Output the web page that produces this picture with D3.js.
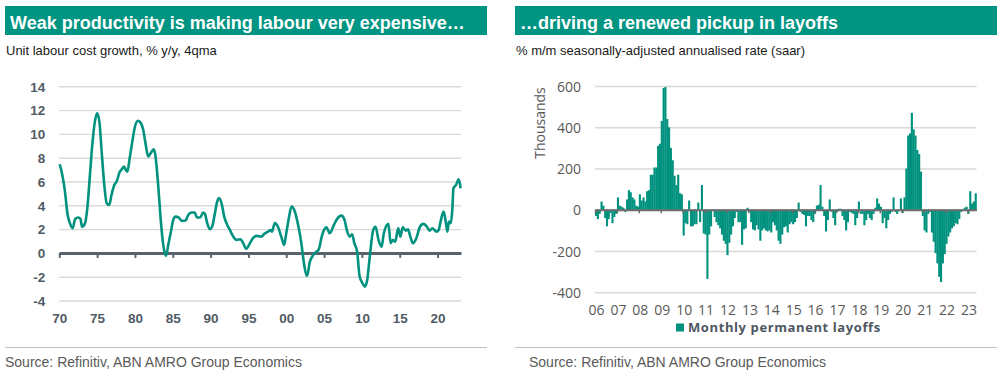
<!DOCTYPE html>
<html>
<head>
<meta charset="utf-8">
<script src="https://cdn.jsdelivr.net/npm/d3@7"></script>
<style>
body { margin: 0; background: #fff; }
svg { display: block; }
</style>
</head>
<body>
<svg></svg>
<script>
// ---- left chart: unit labour cost growth, % y/y, 4qma
const ulcYears = [
	1970.05, 1970.4, 1970.75, 1971.1, 1971.4, 1971.77, 1972.1, 1972.5, 1972.8, 1973.0,
	1973.4, 1973.7, 1974.05, 1974.36, 1974.7, 1975.0, 1975.3, 1975.6, 1975.95, 1976.26,
	1976.6, 1976.9, 1977.27, 1977.58, 1978.0, 1978.2, 1978.55, 1978.8, 1979.0, 1979.3,
	1979.65, 1980.0, 1980.4, 1980.8, 1981.1, 1981.4, 1981.75, 1982.07, 1982.5, 1982.7,
	1983.07, 1983.43, 1983.74, 1984.1, 1984.4, 1984.76, 1985.06, 1985.38, 1985.8, 1986.17,
	1986.7, 1987.0, 1987.5, 1987.9, 1988.2, 1988.67, 1989.0, 1989.25, 1989.55, 1989.9,
	1990.2, 1990.57, 1990.87, 1991.1, 1991.45, 1991.8, 1992.2, 1992.55, 1993.0, 1993.43,
	1993.96, 1994.3, 1994.7, 1995.2, 1995.6, 1996.1, 1996.7, 1997.1, 1997.6, 1997.95,
	1998.1, 1998.5, 1998.9, 1999.4, 1999.72, 2000.0, 2000.3, 2000.7, 2001.14, 2001.55,
	2002.0, 2002.3, 2002.76, 2003.1, 2003.55, 2003.9, 2004.3, 2004.7, 2005.0, 2005.3,
	2005.76, 2006.3, 2006.7, 2007.3, 2007.7, 2008.0, 2008.4, 2008.7, 2009.0, 2009.37,
	2009.7, 2010.08, 2010.38, 2010.7, 2011.04, 2011.5, 2011.8, 2012.2, 2012.6, 2012.9,
	2013.5, 2013.8, 2014.1, 2014.4, 2014.8, 2015.1, 2015.4, 2015.8, 2016.1, 2016.4,
	2016.75, 2017.2, 2017.65, 2018.1, 2018.6, 2018.95, 2019.3, 2019.85, 2020.15, 2020.4,
	2020.8, 2021.05, 2021.3, 2021.5, 2021.75, 2021.95, 2022.1, 2022.45, 2022.8, 2023.05
];
const ulcValues = [
	7.45, 6.55, 5.15, 3.2, 2.5, 2.07, 2.85, 2.97, 2.86, 2.2,
	2.5, 3.75, 6.55, 9.07, 11.03, 11.74, 11.03, 8.5, 5.7, 4.17,
	4.03, 4.87, 5.7, 6.0, 6.83, 6.97, 7.25, 6.97, 6.83, 7.95,
	9.35, 10.6, 11.1, 10.9, 10.33, 9.2, 8.1, 8.38, 8.7, 8.2,
	5.7, 2.63, 0.67, -0.25, 0.67, 1.8, 2.77, 3.05, 2.97, 2.69,
	2.72, 3.13, 3.39, 3.39, 2.97, 3.0, 3.39, 3.28, 2.5, 1.99,
	2.2, 3.33, 4.3, 4.6, 4.17, 3.05, 2.35, 1.93, 1.37, 1.09,
	1.15, 0.82, 0.35, 0.82, 1.24, 1.43, 1.37, 1.6, 1.79, 1.93,
	1.79, 2.5, 2.2, 1.24, 0.67, 1.65, 2.77, 3.89, 3.47, 2.4,
	0.8, -0.7, -1.93, -0.8, -0.2, 0.05, 0.3, 1.4, 1.93, 2.16,
	1.65, 2.35, 2.83, 3.13, 2.77, 1.93, 1.37, 1.57, 0.82, 0.11,
	-1.99, -2.55, -2.83, -2.27, -0.31, 1.93, 2.2, 1.09, 0.53, 1.65,
	2.44, 0.82, 1.09, 0.95, 2.07, 1.37, 2.16, 1.87, 1.99, 1.37,
	0.82, 1.24, 2.16, 2.44, 2.2, 1.87, 2.07, 1.79, 1.93, 2.63,
	3.47, 2.77, 1.79, 2.63, 2.5, 3.61, 5.43, 5.71, 6.19, 5.43
];
const ulcTicks = [-4, -2, 0, 2, 4, 6, 8, 10, 12, 14];
const ulcYearTicks = [1970, 1975, 1980, 1985, 1990, 1995, 2000, 2005, 2010, 2015, 2020];
const ulcYearLabels = ["70", "75", "80", "85", "90", "95", "00", "05", "10", "15", "20"];

// ---- right chart: monthly permanent layoffs, thousands (Jan 2006 - May 2023)
const layoffs = [
	-30, -45, -20, 40, 20, -40, -80, -45, -15, -65, -35, -20, // 2006
	60, 20, 15, 10, -10, 50, 95, 85, 60, 50, 20, 15, // 2007
	75, 45, 60, 40, 90, 95, 170, 170, 205, 205, 310, 320, // 2008
	430, 590, 595, 440, 400, 300, 240, 165, 120, 170, 80, 75, // 2009
	-125, -65, -70, 45, -80, -80, -70, -70, 35, -60, 120, -115, // 2010
	-120, -335, -120, -80, -5, -35, -60, -75, -90, -120, -150, -165, // 2011
	-220, -160, -120, -80, -40, -10, -60, -60, -170, -95, -90, 10, // 2012
	-10, -60, -95, -100, -75, -95, -150, -100, -90, -100, -105, -100, // 2013
	-110, -60, -75, -100, -150, -165, -120, -85, -80, -110, -70, -60, // 2014
	-70, -60, -40, 35, -10, -20, -25, -80, -30, -30, -50, -60, // 2015
	-20, 20, 25, 120, 15, -30, -105, -50, 50, -10, -40, -75, // 2016
	-10, 5, 5, -30, -50, -100, -60, -10, -15, -20, -75, -40, // 2017
	40, -20, -20, -75, -50, -20, -40, -50, -20, 10, 55, 30, // 2018
	15, -65, -40, -90, -50, -20, -10, 60, -10, -20, 0, 55, // 2019
	-15, 60, 200, 360, 370, 470, 390, 360, 290, 270, 185, -30, // 2020
	-100, -110, -20, -10, -110, -155, -210, -260, -325, -350, -260, -215, // 2021
	-165, -130, -110, -90, -80, -65, -70, -45, -10, -5, 10, 15, // 2022
	-20, 90, 30, 40, 80 // 2023
];
const layoffTicks = [-400, -200, 0, 200, 400, 600];
const layoffYearLabels = ["06", "07", "08", "09", "10", "11", "12", "13", "14", "15", "16", "17", "18", "19", "20", "21", "22", "23"];

const teal = "#00927f";
const titleTeal = "#009482";

const svg = d3.select("svg").attr("width", 1005).attr("height", 381);

// headers, subtitles, footers
function panelFrame(x0, title, subtitle, srcX) {
	svg.append("rect").attr("x", x0).attr("y", 6).attr("width", 482).attr("height", 29).attr("fill", titleTeal);
	svg.append("text").attr("x", x0 + 5).attr("y", 28.5).text(title)
		.attr("fill", "#fff").attr("font-family", "Liberation Sans, Arial, sans-serif")
		.attr("font-weight", "bold").attr("font-size", 18);
	svg.append("text").attr("x", x0 + 1).attr("y", 55).text(subtitle)
		.attr("fill", "#1a1a1a").attr("font-family", "Liberation Sans, Arial, sans-serif").attr("font-size", 13);
	svg.append("line").attr("x1", x0).attr("x2", x0 + 482).attr("y1", 347.5).attr("y2", 347.5)
		.attr("stroke", "#bfbfbf").attr("stroke-width", 1);
	svg.append("text").attr("x", srcX).attr("y", 367).text("Source: Refinitiv, ABN AMRO Group Economics")
		.attr("fill", "#595959").attr("font-family", "Liberation Sans, Arial, sans-serif").attr("font-size", 14);
}
panelFrame(5, "Weak productivity is making labour very expensive…", "Unit labour cost growth, % y/y, 4qma", 5);
panelFrame(515, "…driving a renewed pickup in layoffs", "% m/m seasonally-adjusted annualised rate (saar)", 529);

// ---- left chart
const lx = d3.scaleLinear().domain([1970, 2023.1]).range([59.3, 461]);
const ly = d3.scaleLinear().domain([-4, 14]).range([300.5, 86.3]);

const lGrid = svg.append("g").attr("transform", "translate(59.3,0)")
	.call(d3.axisLeft(ly).tickValues(ulcTicks).tickSize(-(461 - 59.3)).tickPadding(14)
		.tickFormat((d) => String(d)));
lGrid.select(".domain").remove();
lGrid.selectAll("line").attr("stroke", "#d9d9d9").attr("stroke-width", 1.4);
lGrid.selectAll("text").attr("fill", "#515b65").attr("font-family", "Liberation Sans, Arial, sans-serif")
	.attr("font-weight", "bold").attr("font-size", 13.5).attr("dy", "0.36em");

const lZero = svg.append("g").attr("transform", `translate(0,${ly(0)})`)
	.call(d3.axisBottom(lx).tickValues(ulcYearTicks).tickSize(5).tickSizeOuter(0).tickFormat(""));
lZero.select(".domain").attr("stroke", "#58626c").attr("stroke-width", 3);
lZero.selectAll(".tick line").attr("stroke", "#58626c").attr("stroke-width", 2);

const lLabels = svg.append("g").attr("transform", "translate(0,313)")
	.call(d3.axisBottom(lx).tickValues(ulcYearTicks).tickSize(0).tickPadding(0)
		.tickFormat((d, i) => ulcYearLabels[i]));
lLabels.select(".domain").remove();
lLabels.selectAll("text").attr("fill", "#515b65").attr("font-family", "Liberation Sans, Arial, sans-serif")
	.attr("font-weight", "bold").attr("font-size", 13.5);

const ulcLine = d3.line()
	.x((d, i) => lx(ulcYears[i]))
	.y((d) => ly(d))
	.curve(d3.curveMonotoneX);
svg.append("path").attr("d", ulcLine(ulcValues))
	.attr("fill", "none").attr("stroke", teal).attr("stroke-width", 2.6).attr("stroke-linejoin", "round");

// ---- right chart
const months = d3.timeMonth.range(new Date(2006, 0, 1), new Date(2006, 0 + layoffs.length, 1));
const yearStarts = d3.timeYear.range(new Date(2006, 0, 1), new Date(2024, 0, 1));
const rt = d3.scaleTime().domain([months[0], d3.timeMonth.offset(months[months.length - 1], 1)]).range([595, 976.5]);
const rx = d3.scaleBand().domain(months.map((m) => +m)).range([595, 976.5]).padding(0);
const ry = d3.scaleLinear().domain([-400, 600]).range([292.3, 86]);

const rGrid = svg.append("g").attr("transform", "translate(595,0)")
	.call(d3.axisLeft(ry).tickValues(layoffTicks).tickSize(-(976.5 - 595)).tickPadding(14)
		.tickFormat((d) => String(d)));
rGrid.select(".domain").remove();
rGrid.selectAll("line").attr("stroke", "#d9d9d9").attr("stroke-width", 1.4);
rGrid.selectAll("text").attr("fill", "#595959").attr("font-family", "Open Sans, sans-serif")
	.attr("font-size", 14).attr("dy", "0.36em");

svg.append("text").attr("transform", "translate(545,123) rotate(-90)").attr("text-anchor", "middle")
	.text("Thousands").attr("fill", "#595959").attr("font-family", "Open Sans, sans-serif").attr("font-size", 14);

svg.append("g").selectAll("rect").data(layoffs).join("rect")
	.attr("x", (d, i) => rx(+months[i]))
	.attr("width", rx.bandwidth() + 0.3)
	.attr("y", (d) => ry(Math.max(0, d)))
	.attr("height", (d) => Math.abs(ry(d) - ry(0)))
	.attr("fill", teal);

const rZero = svg.append("g").attr("transform", `translate(0,${ry(0)})`)
	.call(d3.axisBottom(rt).tickValues(yearStarts.slice(0, 18)).tickSize(3.5).tickSizeOuter(0).tickFormat(""));
rZero.select(".domain").attr("stroke", "#6b6b6b").attr("stroke-width", 2);
rZero.selectAll(".tick line").attr("stroke", "#6b6b6b").attr("stroke-width", 1.5);

const rLabels = svg.append("g").attr("transform", "translate(1,305)")
	.call(d3.axisBottom(rt).tickValues(yearStarts.slice(0, 18)).tickSize(0).tickPadding(0)
		.tickFormat((d, i) => layoffYearLabels[i]));
rLabels.select(".domain").remove();
rLabels.selectAll("text").attr("fill", "#595959").attr("font-family", "Open Sans, sans-serif").attr("font-size", 14);

// legend
svg.append("rect").attr("x", 676).attr("y", 323.5).attr("width", 8).attr("height", 8).attr("fill", teal);
svg.append("text").attr("x", 688).attr("y", 331.5).text("Monthly permanent layoffs")
	.attr("fill", "#4d5761").attr("font-family", "Open Sans, sans-serif").attr("font-weight", "bold")
	.attr("font-size", 13).attr("letter-spacing", 0.6);
</script>
</body>
</html>
